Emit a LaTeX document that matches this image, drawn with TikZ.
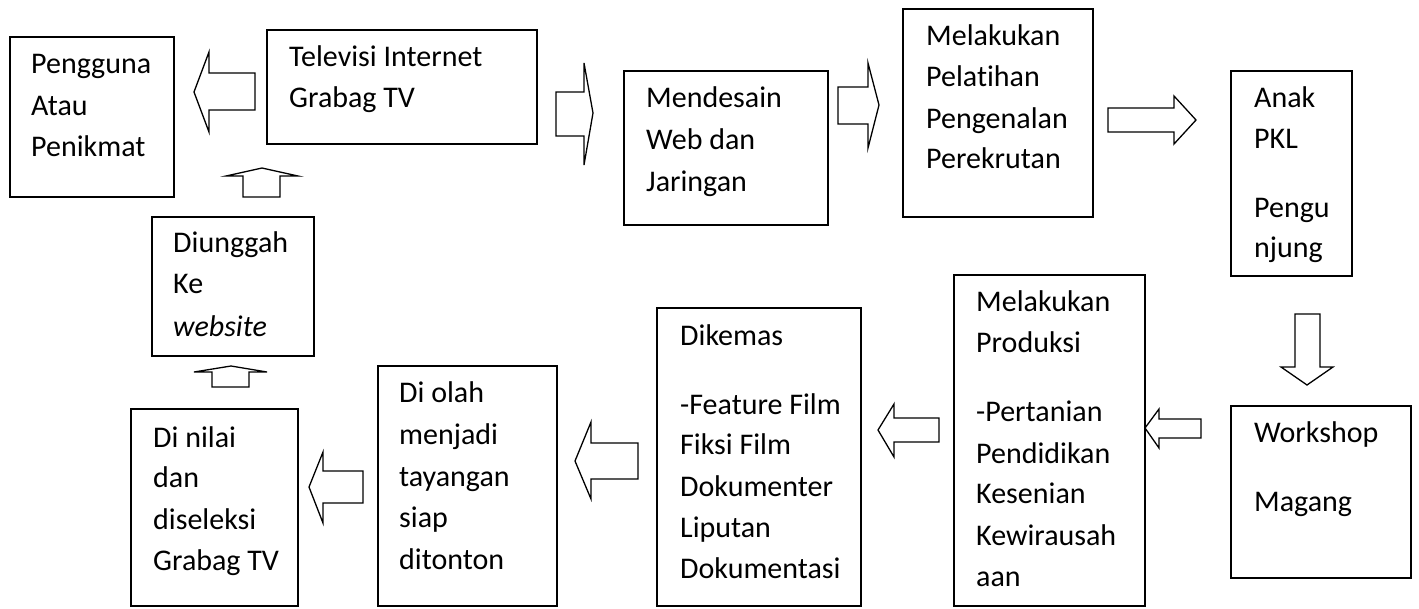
\documentclass[tikz,border=0pt]{standalone}
\usepackage{fontspec}
\setmainfont{Carlito}[Ligatures=NoCommon]
\usetikzlibrary{fit}
\begin{document}
\begin{tikzpicture}[x=1pt,y=-1pt,
  box/.style={draw, line width=1.8pt, inner sep=0pt},
  txt/.style={anchor=base west, inner sep=0pt, font=\fontsize{30}{36}\selectfont},
  blk/.style={draw, line width=1.3pt, fill=white, line join=miter}]
\useasboundingbox (0,0) rectangle (1419,608);
\fill[white] (0,0) rectangle (1419,608);

% boxes
\node[box, fit={(10,37) (174,197)}] (peng) {};
\node[box, fit={(267,30) (537,144)}] (tv) {};
\node[box, fit={(624,71) (828,225)}] (desain) {};
\node[box, fit={(903,9) (1093,217)}] (latih) {};
\node[box, fit={(1231,71) (1352,276)}] (pkl) {};
\node[box, fit={(152,217) (314,356)}] (unggah) {};
\node[box, fit={(1231,406) (1411,578)}] (work) {};
\node[box, fit={(954,275) (1145,606)}] (prod) {};
\node[box, fit={(657,308) (861,606)}] (kemas) {};
\node[box, fit={(378,366) (557,606)}] (olah) {};
\node[box, fit={(131,409) (298,606)}] (nilai) {};

% texts
\node[txt] (peng1) at (31,73) {Pengguna};
\node[txt] (peng2) at (31,115) {Atau};
\node[txt] (peng3) at (31,156) {Penikmat};

\node[txt] (tv1) at (289,66) {Televisi Internet};
\node[txt] (tv2) at (289,107) {Grabag TV};

\node[txt] (desain1) at (646,107) {Mendesain};
\node[txt] (desain2) at (646,149) {Web dan};
\node[txt] (desain3) at (646,191) {Jaringan};

\node[txt] (latih1) at (926,45) {Melakukan};
\node[txt] (latih2) at (926,86) {Pelatihan};
\node[txt] (latih3) at (926,128) {Pengenalan};
\node[txt] (latih4) at (926,168) {Perekrutan};

\node[txt] (pkl1) at (1254,107) {Anak};
\node[txt] (pkl2) at (1254,148) {PKL};
\node[txt] (pkl3) at (1254,217) {Pengu};
\node[txt] (pkl4) at (1254,257) {njung};

\node[txt] (unggah1) at (173,252) {Diunggah};
\node[txt] (unggah2) at (173,293) {Ke};
\node[txt] (unggah3) at (173,336) {\itshape website};

\node[txt] (work1) at (1254,442) {Workshop};
\node[txt] (work2) at (1254,511) {Magang};

\node[txt] (prod1) at (976,311) {Melakukan};
\node[txt] (prod2) at (976,352) {Produksi};
\node[txt] (prod3) at (976,421) {-Pertanian};
\node[txt] (prod4) at (976,463) {Pendidikan};
\node[txt] (prod5) at (976,503) {Kesenian};
\node[txt] (prod6) at (976,545) {Kewirausah};
\node[txt] (prod7) at (976,586) {aan};

\node[txt] (kemas1) at (680,345) {Dikemas};
\node[txt] (kemas2) at (680,414) {-Feature Film};
\node[txt] (kemas3) at (680,454) {Fiksi Film};
\node[txt] (kemas4) at (680,496) {Dokumenter};
\node[txt] (kemas5) at (680,537) {Liputan};
\node[txt] (kemas6) at (680,578) {Dokumentasi};

\node[txt] (olah1) at (399,402) {Di olah};
\node[txt] (olah2) at (399,444) {menjadi};
\node[txt] (olah3) at (399,486) {tayangan};
\node[txt] (olah4) at (399,527) {siap};
\node[txt] (olah5) at (399,569) {ditonton};

\node[txt] (nilai1) at (153,447) {Di nilai};
\node[txt] (nilai2) at (153,487) {dan};
\node[txt] (nilai3) at (153,529) {diseleksi};
\node[txt] (nilai4) at (153,570) {Grabag TV};

% block arrows
% tv -> peng
\draw[blk] (194,92) -- (209,52) -- (209,73) -- (255,73) -- (255,110) -- (209,110) -- (209,132) -- cycle;
% tv -> desain
\draw[blk] (556,92) -- (584,92) -- (584,63) -- (593,113) -- (584,165) -- (584,136) -- (556,136) -- cycle;
% desain -> latih
\draw[blk] (838,87) -- (868,87) -- (868,63) -- (879,105) -- (868,148) -- (868,124) -- (838,124) -- cycle;
% latih -> pkl
\draw[blk] (1108,108) -- (1174,108) -- (1174,96) -- (1196,120) -- (1174,144) -- (1174,132) -- (1108,132) -- cycle;
% pkl -> work
\draw[blk] (1295,314) -- (1320,314) -- (1320,367) -- (1333,367) -- (1307,385) -- (1281,367) -- (1295,367) -- cycle;
% work -> prod
\draw[blk] (1145,428) -- (1159,409) -- (1159,419) -- (1201,419) -- (1201,438) -- (1159,438) -- (1159,448) -- cycle;
% prod -> kemas
\draw[blk] (878,430) -- (894,404) -- (894,418) -- (939,418) -- (939,442) -- (894,442) -- (894,457) -- cycle;
% kemas -> olah
\draw[blk] (575,461) -- (591,422) -- (591,443) -- (638,443) -- (638,479) -- (591,479) -- (591,499) -- cycle;
% olah -> nilai
\draw[blk] (309,487) -- (323,452) -- (323,471) -- (363,471) -- (363,503) -- (323,503) -- (323,523) -- cycle;
% nilai -> unggah
\draw[blk] (212,387) -- (212,372) -- (194,372) -- (231,366) -- (267,372) -- (249,372) -- (249,387) -- cycle;
% unggah -> peng
\draw[blk] (243,197) -- (243,176) -- (226,176) -- (262,168) -- (298,176) -- (280,176) -- (280,197) -- cycle;
\end{tikzpicture}
\end{document}
